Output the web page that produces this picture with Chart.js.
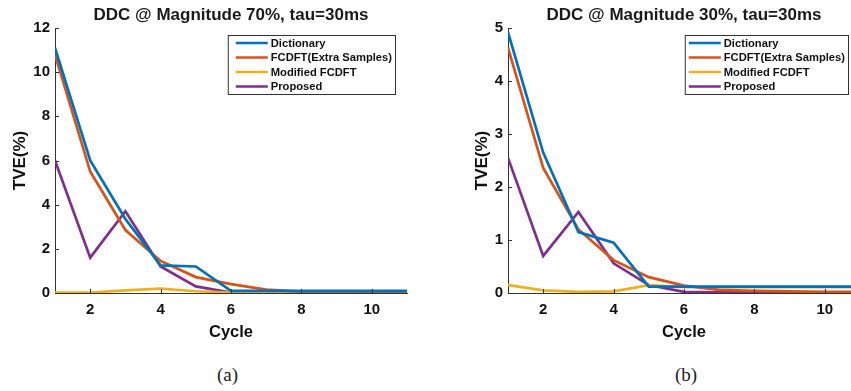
<!DOCTYPE html>
<html>
<head>
<meta charset="utf-8">
<script src="https://cdn.jsdelivr.net/npm/chart.js@4.4.0/dist/chart.umd.min.js"></script>
<style>
  html, body { margin: 0; padding: 0; background: #fff; overflow: hidden; width: 851px; height: 391px; }
  .box { position: absolute; top: 0; height: 350px; }
  .cap { position: absolute; top: 364px; font-family: "Liberation Serif", "DejaVu Serif", serif; font-size: 19px; color: #222; }
</style>
</head>
<body>
<div class="box" id="wrapA" style="left:0px;width:430px;"><canvas id="chartA"></canvas></div>
<div class="box" id="wrapB" style="left:453px;width:410px;"><canvas id="chartB"></canvas></div>
<div class="cap" style="left:217px;">(a)</div>
<div class="cap" style="left:675px;">(b)</div>
<script>
const cycles = [1, 2, 3, 4, 5, 6, 7, 8, 9, 10, 11];
const xTicks = [2, 4, 6, 8, 10];
const seriesNames = ['Dictionary', 'FCDFT(Extra Samples)', 'Modified FCDFT', 'Proposed'];
const seriesColors = ['#0072BD', '#D95319', '#EDB120', '#7E2F8E'];

// (a) magnitude 70%
const dictA     = [11.1, 6.0, 3.35, 1.25, 1.2, 0.1, 0.1, 0.1, 0.1, 0.1, 0.1];
const fcdftA    = [10.8, 5.5, 2.85, 1.45, 0.72, 0.4, 0.15, 0.06, 0.04, 0.03, 0.03];
const modFcdftA = [0.02, 0.02, 0.12, 0.2, 0.08, 0.02, 0.01, 0.01, 0.01, 0.01, 0.01];
const propA     = [6.0, 1.6, 3.7, 1.2, 0.3, 0.02, 0.01, 0.01, 0.01, 0.01, 0.01];
const yTicksA = [0, 2, 4, 6, 8, 10, 12];

// (b) magnitude 30%
const dictB     = [4.92, 2.65, 1.15, 0.95, 0.12, 0.12, 0.12, 0.12, 0.12, 0.12, 0.12];
const fcdftB    = [4.63, 2.36, 1.2, 0.62, 0.3, 0.14, 0.06, 0.04, 0.03, 0.02, 0.02];
const modFcdftB = [0.15, 0.05, 0.02, 0.03, 0.15, 0.11, 0.11, 0.11, 0.11, 0.11, 0.11];
const propB     = [2.55, 0.7, 1.53, 0.56, 0.15, 0.02, 0.01, 0.01, 0.01, 0.01, 0.01];
const yTicksB = [0, 1, 2, 3, 4, 5];

const axisColor = '#333';
const fontFam = '"Liberation Sans", Arial, sans-serif';

// title centred over the plot area (matlab style), not over the canvas
const areaTitle = {
  id: 'areaTitle',
  afterDraw(chart) {
    const ctx = chart.ctx, area = chart.chartArea;
    ctx.save();
    ctx.font = 'bold 17px ' + fontFam;
    ctx.fillStyle = '#1a1a1a';
    ctx.textAlign = 'center';
    ctx.textBaseline = 'middle';
    ctx.fillText(chart.options.plugins.areaTitle.text, (area.left + area.right) / 2, 15);
    ctx.restore();
  }
};

// box legend in the top right corner of the plot, like matlab
const boxLegend = {
  id: 'boxLegend',
  afterDraw(chart) {
    const ctx = chart.ctx, area = chart.chartArea;
    const ds = chart.data.datasets;
    ctx.save();
    ctx.font = 'bold 11.2px ' + fontFam;
    let tw = 0;
    ds.forEach(d => { tw = Math.max(tw, ctx.measureText(d.label).width); });
    const padL = chart.options.plugins.boxLegend.padL;
    const w = padL + 32 + 3 + tw + 3;
    const right = area.right - chart.options.plugins.boxLegend.inset;
    const left = right - w;
    const top = area.top + 7;
    const rowH = 14.5;
    const h = rowH * ds.length + 1;
    ctx.fillStyle = '#fff';
    ctx.fillRect(left, top, w, h);
    ctx.strokeStyle = '#333';
    ctx.lineWidth = 1;
    ctx.strokeRect(left + 0.5, top + 0.5, w, h);
    ds.forEach((d, i) => {
      const y = top + 8 + i * rowH;
      ctx.strokeStyle = d.borderColor;
      ctx.lineWidth = 2.5;
      ctx.beginPath();
      ctx.moveTo(left + padL, y);
      ctx.lineTo(left + padL + 32, y);
      ctx.stroke();
      ctx.fillStyle = '#111';
      ctx.textBaseline = 'middle';
      ctx.fillText(d.label, left + padL + 35, y + 0.5);
    });
    ctx.restore();
  }
};

// short inward tick marks
const inTicks = {
  id: 'inTicks',
  afterDraw(chart) {
    const ctx = chart.ctx, area = chart.chartArea;
    const xs = chart.scales.x, ys = chart.scales.y;
    ctx.save();
    ctx.strokeStyle = axisColor;
    ctx.lineWidth = 1;
    ctx.beginPath();
    ys.ticks.forEach(t => {
      const p = Math.round(ys.getPixelForValue(t.value)) + 0.5;
      ctx.moveTo(area.left, p); ctx.lineTo(area.left + 4, p);
    });
    xs.ticks.forEach(t => {
      const p = Math.round(xs.getPixelForValue(t.value)) + 0.5;
      ctx.moveTo(p, area.bottom); ctx.lineTo(p, area.bottom - 4);
    });
    ctx.stroke();
    ctx.restore();
  }
};

function makeChart(id, title, vals, yTicks, yMax, yTitlePad, legendPadL, legendInset, rightPad) {
  const datasets = seriesNames.map((n, i) => ({
    label: n,
    data: cycles.map((c, k) => ({ x: c, y: vals[i][k] })),
    borderColor: seriesColors[i],
    backgroundColor: seriesColors[i],
    borderWidth: 2.7,
    pointRadius: 0,
    tension: 0,
    fill: false
  }));
  return new Chart(document.getElementById(id), {
    type: 'line',
    data: { datasets: datasets },
    options: {
      responsive: true,
      maintainAspectRatio: false,
      animation: false,
      layout: { padding: { left: 0, right: rightPad, top: 28, bottom: 0 } },
      plugins: {
        legend: { display: false },
        tooltip: { enabled: false },
        title: { display: false },
        areaTitle: { text: title },
        boxLegend: { padL: legendPadL, inset: legendInset }
      },
      scales: {
        x: {
          type: 'linear',
          min: 1,
          max: 11,
          afterBuildTicks: s => { s.ticks = xTicks.map(v => ({ value: v })); },
          afterFit: s => { s.height = 57; },
          grid: { display: false, drawTicks: false },
          border: { display: true, color: axisColor, width: 1 },
          ticks: { color: '#111', padding: 8, font: { family: fontFam, size: 15, weight: 'bold' } },
          title: {
            display: true, text: 'Cycle', color: '#111',
            font: { family: fontFam, size: 16.5, weight: 'bold', lineHeight: 1.2 },
            padding: { top: 0, bottom: 8 }
          }
        },
        y: {
          type: 'linear',
          min: 0,
          max: yMax,
          afterBuildTicks: s => { s.ticks = yTicks.map(v => ({ value: v })); },
          afterFit: s => { s.width = 55; },
          grid: { display: false, drawTicks: false },
          border: { display: true, color: axisColor, width: 1 },
          ticks: { color: '#111', padding: 5, font: { family: fontFam, size: 15, weight: 'bold' } },
          title: {
            display: true, text: 'TVE(%)', color: '#111',
            font: { family: fontFam, size: 17, weight: 'bold', lineHeight: 1.2 },
            padding: { top: yTitlePad, bottom: 0 }
          }
        }
      }
    },
    plugins: [inTicks, boxLegend, areaTitle]
  });
}

makeChart('chartA', 'DDC @ Magnitude 70%, tau=30ms',
  [dictA, fcdftA, modFcdftA, propA], yTicksA, 12, 10, 8, 12, 23);
makeChart('chartB', 'DDC @ Magnitude 30%, tau=30ms',
  [dictB, fcdftB, modFcdftB, propB], yTicksB, 5, 19, 4, 12, 3);
</script>
</body>
</html>
